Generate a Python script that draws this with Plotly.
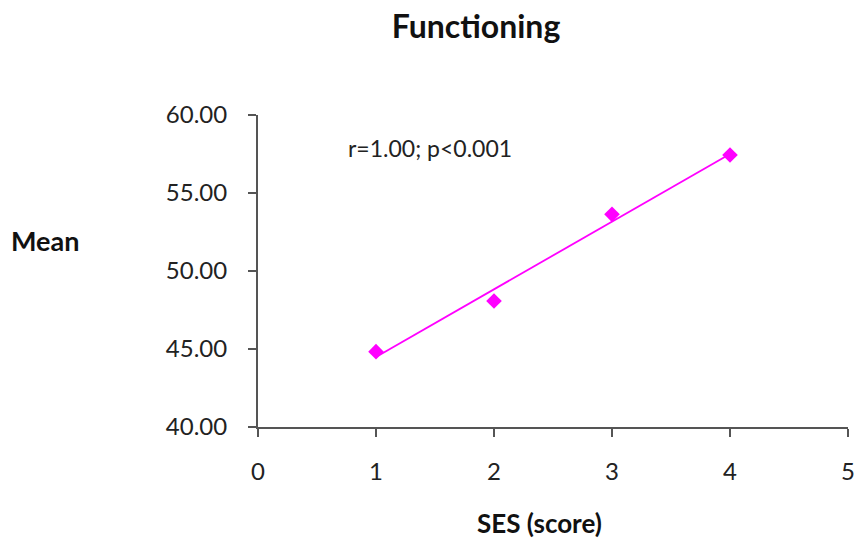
import numpy as np
import plotly.graph_objects as go

ses_scores = [1, 2, 3, 4]
mean_values = [44.83, 48.08, 53.63, 57.44]
x_ticks = [0, 1, 2, 3, 4, 5]
y_ticks = [40, 45, 50, 55, 60]
y_tick_labels = ["40.00", "45.00", "50.00", "55.00", "60.00"]

FONT = "Lato, 'Open Sans', sans-serif"
MAGENTA = "#FF00FF"

slope, intercept = np.polyfit(ses_scores, mean_values, 1)
trend_x = [min(ses_scores), max(ses_scores)]
trend_y = [slope * x + intercept for x in trend_x]

W, H = 856, 546
L, R, T, B = 258, 8, 115, 119
PW, PH = W - L - R, H - T - B

fig = go.Figure()
fig.add_trace(go.Scatter(x=trend_x, y=trend_y, mode="lines",
                         line=dict(color=MAGENTA, width=1.8), showlegend=False))
fig.add_trace(go.Scatter(x=ses_scores, y=mean_values, mode="markers",
                         marker=dict(symbol="diamond", size=12, color=MAGENTA),
                         showlegend=False))

fig.update_layout(
    width=W, height=H,
    margin=dict(l=L, r=R, t=T, b=B, autoexpand=False),
    paper_bgcolor="white", plot_bgcolor="white",
    font=dict(family=FONT, color="#222222"),
    title=dict(text="<b>Functioning</b>", x=476/W, xanchor="center",
               y=1-27/H, yanchor="middle", font=dict(size=32, family=FONT, color="#111111")),
    xaxis=dict(range=[0, 5], tickvals=x_ticks, showgrid=False, zeroline=False,
               automargin=False,
               showline=True, linecolor="#555555", linewidth=2,
               ticks="outside", ticklen=8, tickwidth=1.5, tickcolor="#555555",
               ticklabelstandoff=14,
               tickfont=dict(size=24, family=FONT, color="#222222")),
    yaxis=dict(range=[40, 60], tickvals=y_ticks, ticktext=y_tick_labels, showgrid=False,
               automargin=False,
               zeroline=False, showline=True, linecolor="#555555", linewidth=2,
               ticks="outside", ticklen=8, tickwidth=1.5, tickcolor="#555555",
               ticklabelstandoff=16,
               tickfont=dict(size=24, family=FONT, color="#222222")),
)

fig.add_annotation(text="<b>Mean</b>", xref="paper", yref="paper",
                   x=(9 - L) / PW, y=(T + PH - 240) / PH, xanchor="left", yanchor="middle",
                   showarrow=False, font=dict(size=27, family=FONT, color="#111111"))
fig.add_annotation(text="r=1.00; p<0.001", xref="paper", yref="paper",
                   x=(346 - L) / PW, y=(T + PH - 148) / PH, xanchor="left", yanchor="middle",
                   showarrow=False, font=dict(size=23, family=FONT, color="#222222"))
fig.add_annotation(text="<b>SES (score)</b>", xref="paper", yref="paper",
                   x=(539 - L) / PW, y=(T + PH - 523) / PH, xanchor="center", yanchor="middle",
                   showarrow=False, font=dict(size=26, family=FONT, color="#111111"))

fig.write_html("out.html", config={"displayModeBar": False},
               post_script="document.body.style.margin='0';document.body.style.overflow='hidden';")
